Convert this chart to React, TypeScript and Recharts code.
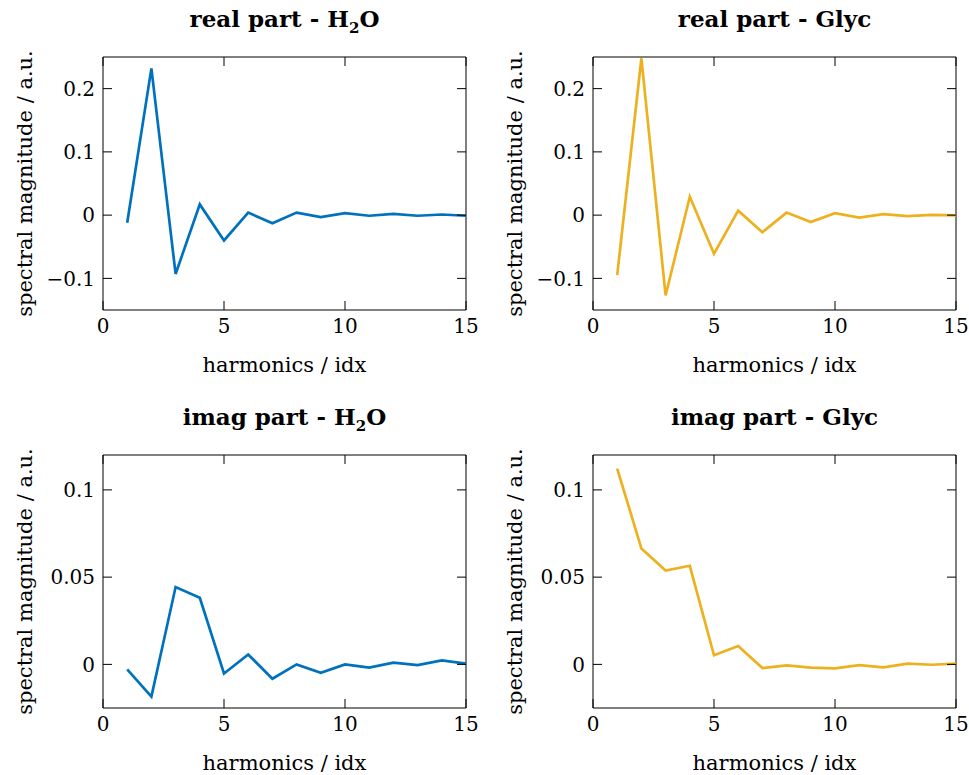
import React from 'react';
import { LineChart, Line, XAxis, YAxis, ReferenceArea } from 'recharts';

const harmonics = [1, 2, 3, 4, 5, 6, 7, 8, 9, 10, 11, 12, 13, 14, 15];

const realH2O = [-0.012, 0.232, -0.093, 0.017, -0.04, 0.004, -0.013, 0.004, -0.003, 0.003, -0.001, 0.002, -0.001, 0.001, -0.001];
const realGlyc = [-0.095, 0.248, -0.127, 0.029, -0.061, 0.007, -0.027, 0.004, -0.011, 0.003, -0.004, 0.0015, -0.0015, 0.0005, -0.0005];
const imagH2O = [-0.0029, -0.0185, 0.0443, 0.0382, -0.0052, 0.0057, -0.0082, 0.0, -0.0048, 0.0, -0.0019, 0.001, -0.0004, 0.0023, 0.0004];
const imagGlyc = [0.1122, 0.0664, 0.0538, 0.0565, 0.0052, 0.0105, -0.0021, -0.0006, -0.0019, -0.0023, -0.0004, -0.0017, 0.0004, -0.0002, 0.0004];

const xTicks = [0, 5, 10, 15];
const realTicks = [-0.1, 0, 0.1, 0.2];
const imagTicks = [0, 0.05, 0.1];

const BLUE = '#0072BD';
const YELLOW = '#EDB120';
const FONT = '"DejaVu Serif", serif';

// plot box inside each chart (chart-relative px)
const Y_W = 103;
const PLOT_W = 363;
const PLOT_H = 253;
const TOP = 50;
const X_H = 80;
const RIGHT = 13;
const CHART_W = Y_W + PLOT_W + RIGHT;
const CHART_H = TOP + PLOT_H + X_H;
const TICK = 9;

const fmt = (v: number) => (v < 0 ? '\u2212' + Math.abs(v) : String(v));

const YTick = (props: any) => {
  const { y, payload } = props;
  const l = Y_W;
  const r = Y_W + PLOT_W;
  return (
    <g>
      <line x1={l} x2={l + TICK} y1={y} y2={y} stroke="#000" />
      <line x1={r - TICK} x2={r} y1={y} y2={y} stroke="#000" />
      <text x={l - 8} y={y} dy="0.36em" textAnchor="end" fontFamily={FONT} fontSize={20} fill="#000">
        {fmt(payload.value)}
      </text>
    </g>
  );
};

const XTick = (props: any) => {
  const { x, payload } = props;
  const b = TOP + PLOT_H;
  return (
    <g>
      <line x1={x} x2={x} y1={b} y2={b - TICK} stroke="#000" />
      <line x1={x} x2={x} y1={TOP} y2={TOP + TICK} stroke="#000" />
      <text x={x} y={b + 23} textAnchor="middle" fontFamily={FONT} fontSize={20} fill="#000">
        {fmt(payload.value)}
      </text>
    </g>
  );
};

type PanelProps = {
  left: number;
  top: number;
  title: React.ReactNode;
  values: number[];
  color: string;
  domain: [number, number];
  ticks: number[];
};

const Panel = ({ left, top, title, values, color, domain, ticks }: PanelProps) => {
  const data = harmonics.map((h, i) => ({ idx: h, v: values[i] }));
  return (
    <div style={{ position: 'absolute', left, top, width: CHART_W, height: CHART_H }}>
      <div
        style={{
          position: 'absolute',
          left: Y_W,
          width: PLOT_W,
          top: 0,
          textAlign: 'center',
          fontFamily: FONT,
          fontWeight: 'bold',
          fontSize: 23,
          lineHeight: '24px',
          whiteSpace: 'nowrap',
        }}
      >
        {title}
      </div>
      <LineChart width={CHART_W} height={CHART_H} data={data} margin={{ top: TOP, right: RIGHT, bottom: 0, left: 0 }}>
        <XAxis
          dataKey="idx"
          type="number"
          domain={[0, 15]}
          ticks={xTicks}
          height={X_H}
          axisLine={false}
          tickLine={false}
          tick={<XTick />}
          interval={0}
          label={{
            value: 'harmonics / idx',
            position: 'insideBottom',
            offset: 18,
            style: { fontFamily: FONT, fontSize: 21, fill: '#000' },
          }}
        />
        <YAxis
          type="number"
          domain={domain}
          ticks={ticks}
          width={Y_W}
          axisLine={false}
          tickLine={false}
          tick={<YTick />}
          interval={0}
          allowDataOverflow
          label={{
            value: 'spectral magnitude / a.u.',
            angle: -90,
            position: 'insideLeft',
            offset: 25,
            style: { fontFamily: FONT, fontSize: 21, fill: '#000', textAnchor: 'middle' },
          }}
        />
        <ReferenceArea x1={0} x2={15} y1={domain[0]} y2={domain[1]} fill="none" stroke="#000" strokeWidth={1} />
        <Line dataKey="v" type="linear" stroke={color} strokeWidth={2.7} dot={false} isAnimationActive={false} />
      </LineChart>
    </div>
  );
};

const sub2 = <sub style={{ fontSize: 15 }}>2</sub>;

export default function App() {
  return (
    <div style={{ position: 'absolute', left: 0, top: 0, width: 969, height: 775, background: '#fff', overflow: 'hidden' }}>
      <Panel left={0} top={7} title={<span>real part - H{sub2}O</span>} values={realH2O} color={BLUE} domain={[-0.15, 0.25]} ticks={realTicks} />
      <Panel left={490} top={7} title="real part - Glyc" values={realGlyc} color={YELLOW} domain={[-0.15, 0.25]} ticks={realTicks} />
      <Panel left={0} top={405} title={<span>imag part - H{sub2}O</span>} values={imagH2O} color={BLUE} domain={[-0.025, 0.12]} ticks={imagTicks} />
      <Panel left={490} top={405} title="imag part - Glyc" values={imagGlyc} color={YELLOW} domain={[-0.025, 0.12]} ticks={imagTicks} />
    </div>
  );
}
